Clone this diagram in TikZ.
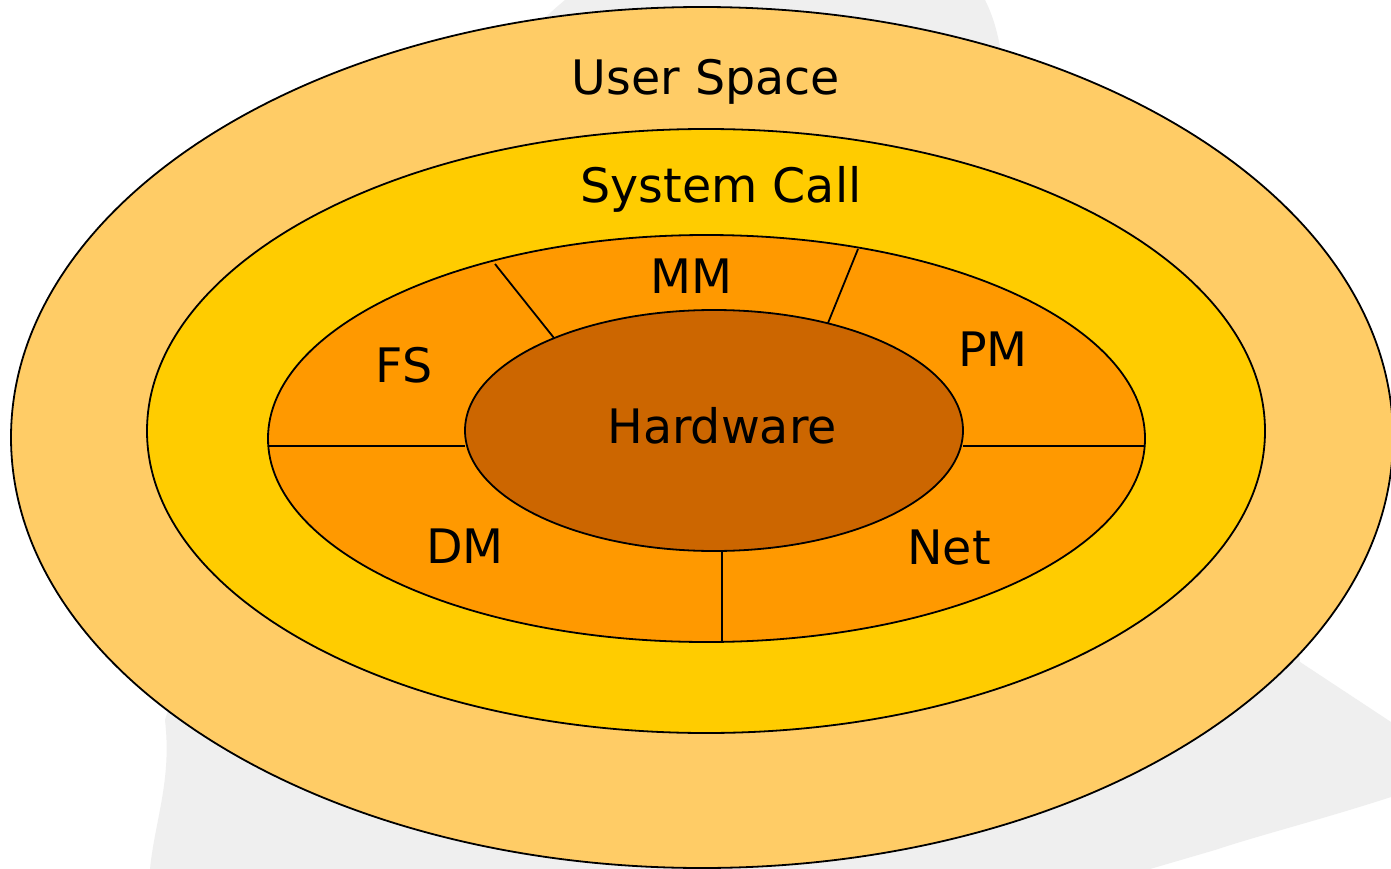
\documentclass[tikz,border=0pt]{standalone}
\usepackage{fontspec}
\setmainfont{DejaVu Sans}
\begin{document}
\begin{tikzpicture}[x=1pt,y=-1pt,
  ring/.style={draw=black,line width=1.8pt},
  divider/.style={draw=black,line width=1.8pt},
  label/.style={anchor=base,inner sep=0pt,font=\fontsize{47.5}{52}\selectfont}]
\definecolor{userc}{HTML}{FFCC66}
\definecolor{callc}{HTML}{FFCC00}
\definecolor{kernc}{HTML}{FF9900}
\definecolor{hwc}{HTML}{CC6600}
\definecolor{penguinc}{HTML}{EFEFEF}
\useasboundingbox (0,0) rectangle (1391,869);
\fill[white] (0,0) rectangle (1391,869);
% faint penguin silhouette in the background
\fill[penguinc] (565,0) -- (985,0) .. controls (995,20) and (1000,40) .. (1005,80)
  .. controls (1200,300) and (1290,500) .. (1300,662)
  -- (1391,722) -- (1391,797) .. controls (1320,820) and (1260,835) .. (1215,850)
  -- (1150,869)
  -- (150,869) .. controls (155,820) and (172,780) .. (165,720)
  .. controls (250,450) and (420,120) .. (565,0) -- cycle;
% nested layers
\draw[ring,fill=userc] (702,437.5) ellipse (691 and 430.5);
\draw[ring,fill=callc] (706,431) ellipse (559 and 302);
\draw[ring,fill=kernc] (706.5,438.5) ellipse (438.5 and 203.5);
\draw[ring,fill=hwc] (714,430.5) ellipse (249 and 120.5);
% kernel subsystem dividers
\coordinate (fsmmO) at (495,264);
\coordinate (fsmmI) at (554,338);
\coordinate (mmpmO) at (858,249);
\coordinate (mmpmI) at (828,323);
\coordinate (fsdmO) at (268,446);
\coordinate (fsdmI) at (465,446);
\coordinate (pmnetO) at (1145,446);
\coordinate (pmnetI) at (963,446);
\coordinate (dmnetO) at (722,642);
\coordinate (dmnetI) at (722,551);
\draw[divider] (fsmmO) -- (fsmmI);
\draw[divider] (mmpmO) -- (mmpmI);
\draw[divider] (fsdmO) -- (fsdmI);
\draw[divider] (pmnetO) -- (pmnetI);
\draw[divider] (dmnetO) -- (dmnetI);
% labels
\node[label] (user) at (706,95) {User Space};
\node[label] (call) at (721,202) {System Call};
\node[label] (mm) at (691,293) {MM};
\node[label] (fs) at (404,382) {FS};
\node[label] (pm) at (993,366) {PM};
\node[label] (hw) at (722,443) {Hardware};
\node[label] (dm) at (465,563) {DM};
\node[label] (net) at (949,564) {Net};
\end{tikzpicture}
\end{document}
